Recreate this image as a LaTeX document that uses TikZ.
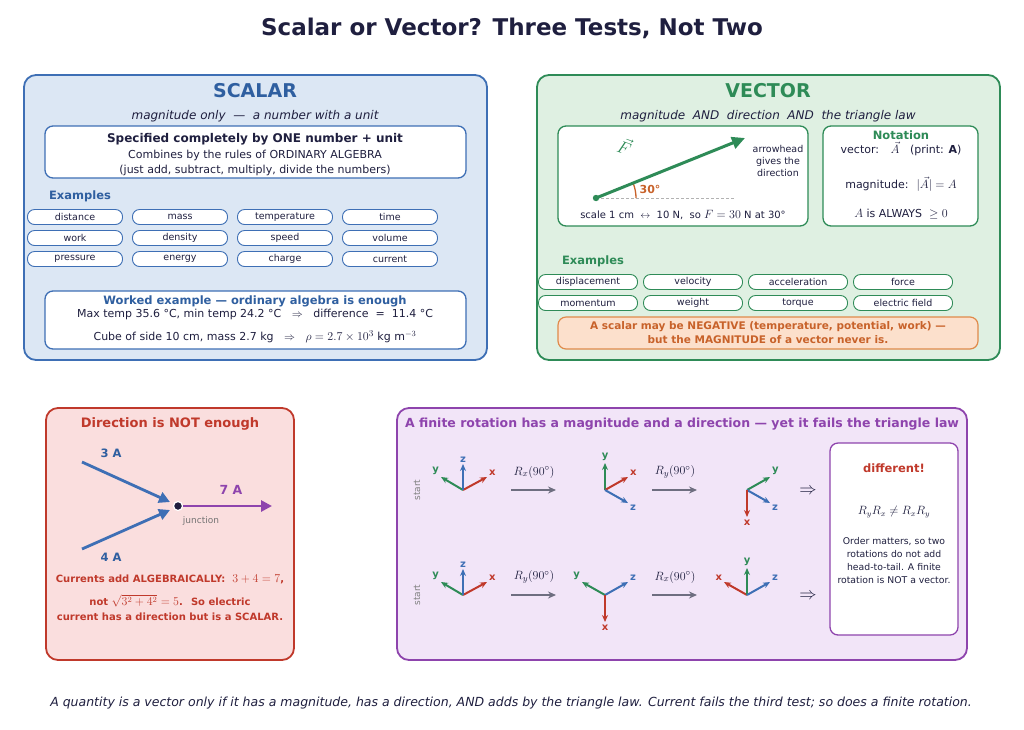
\documentclass[tikz,border=0pt]{standalone}
\usepackage{fontspec}
\setmainfont{DejaVu Sans}
\usetikzlibrary{arrows.meta,calc}
\definecolor{ink}{HTML}{1F1F3F}
\definecolor{sblue}{HTML}{3E6FB5}
\definecolor{dblue}{HTML}{2F5FA0}
\definecolor{sfill}{HTML}{DCE7F4}
\definecolor{vgreen}{HTML}{2E8B57}
\definecolor{vfill}{HTML}{DFF0E2}
\definecolor{dred}{HTML}{C0392B}
\definecolor{rfill}{HTML}{FADEDE}
\definecolor{purp}{HTML}{8E44AD}
\definecolor{pfill}{HTML}{F2E5F8}
\definecolor{orng}{HTML}{C8622A}
\definecolor{ofill}{HTML}{FCE0CC}
\definecolor{oline}{HTML}{E08A4A}
\definecolor{gry}{HTML}{6E6E80}
\newcommand{\bm}[1]{{\fontsize{13}{14}\selectfont$#1$}}
\tikzset{
 panel/.style={draw=#1,line width=1.8pt,rounded corners=12pt},
 wbox/.style={draw=#1,fill=white,line width=1.3pt,rounded corners=8pt},
 pill/.style={draw=#1,fill=white,line width=0.9pt,rounded corners=7pt,minimum width=95pt,minimum height=15pt,inner sep=0pt,font=\fontsize{9.5}{11}\selectfont,text=ink},
 txt/.style={font=\fontsize{11}{14}\selectfont,text=ink,align=center},
 ax/.style={line width=2pt,-{Stealth[length=7pt,width=6pt]},draw=#1},
 axl/.style={font=\fontsize{10}{11}\selectfont\bfseries,text=#1},
 op/.style={line width=2pt,draw=gry,-{Stealth[length=8pt,width=7pt]}},
}
\begin{document}
\begin{tikzpicture}[x=1pt,y=-1pt]
\useasboundingbox[fill=white] (0,0) rectangle (1024,729);
\node[font=\fontsize{23}{26}\selectfont\bfseries,text=ink] (title) at (512,28) {Scalar or Vector? Three Tests, Not Two};

% SCALAR panel
\draw[panel=sblue,fill=sfill] (24,75) rectangle (487,360);
\node[font=\fontsize{19}{22}\selectfont\bfseries,text=dblue] (sh) at (255,91) {SCALAR};
\node[txt,font=\fontsize{12}{14}\selectfont\itshape] (ss) at (255,116) {magnitude only \ ---\ \ a number with a unit};
\draw[wbox=sblue] (45,126) rectangle (466,178);
\node[txt,font=\fontsize{12}{14}\selectfont\bfseries] (s1) at (255,139) {Specified completely by ONE number + unit};
\node[txt] (s2) at (255,155) {Combines by the rules of ORDINARY ALGEBRA};
\node[txt] (s3) at (255,170) {(just add, subtract, multiply, divide the numbers)};
\node[font=\fontsize{11.5}{14}\selectfont\bfseries,text=dblue] (sex) at (80,196) {Examples};
\foreach \t [count=\i from 0] in {distance,mass,temperature,time,work,density,speed,volume,pressure,energy,charge,current}{
 \pgfmathtruncatemacro{\c}{mod(\i,4)}\pgfmathtruncatemacro{\r}{div(\i,4)}
 \node[pill=sblue] (sp\i) at (75+105*\c,217+21*\r) {\t};}
\draw[wbox=sblue] (45,291) rectangle (466,349);
\node[txt,font=\fontsize{11.5}{14}\selectfont\bfseries,text=dblue] (w1) at (255,301) {Worked example --- ordinary algebra is enough};
\node[txt] (w2) at (255,314) {Max temp 35.6 °C, min temp 24.2 °C \ \ $\Rightarrow$ \ \ difference \ = \ 11.4 °C};
\node[txt] (w3) at (255,337) {Cube of side 10 cm, mass 2.7 kg \ \ $\Rightarrow$ \ \ \bm{\rho=2.7\times10^{3}} kg m$^{-3}$};

% VECTOR panel
\draw[panel=vgreen,fill=vfill] (537,75) rectangle (1000,360);
\node[font=\fontsize{19}{22}\selectfont\bfseries,text=vgreen] (vh) at (768,91) {VECTOR};
\node[txt,font=\fontsize{12}{14}\selectfont\itshape] (vs) at (768,116) {magnitude \ AND \ direction \ AND \ the triangle law};
\draw[wbox=vgreen] (558,126) rectangle (808,226);
\coordinate (o) at (596,198);
\coordinate (dend) at (735,198);
\coordinate (tip) at (745,138);
\draw[densely dashed,draw=gray!60,line width=0.9pt] (o) -- (dend);
\draw[line width=1.3pt,draw=orng] ($(o)+(40,0)$) arc[start angle=0,end angle=22,radius=40pt] ;
\draw[line width=3pt,draw=vgreen,-{Triangle[length=13pt,width=12pt]}] (o) -- (tip);
\fill[vgreen] (o) circle (3.2pt);
\node[font=\fontsize{11}{12}\selectfont\bfseries,text=orng] (ang) at (650,189) {30°};
\node[rotate=-20,font=\fontsize{17}{18}\selectfont,text=vgreen] (F) at (625,146) {$\vec F$};
\node[txt,font=\fontsize{9.5}{12}\selectfont] (ah) at (778,161) {arrowhead\\gives the\\direction};
\node[txt,font=\fontsize{10}{12}\selectfont] (sc) at (683,215) {scale 1 cm \ $\leftrightarrow$\ \ 10 N, \ so {\fontsize{12}{12}\selectfont$F=30$} N at 30°};
\draw[wbox=vgreen] (823,126) rectangle (978,226);
\node[font=\fontsize{11.5}{13}\selectfont\bfseries,text=vgreen] (nt) at (901,135) {Notation};
\node[txt] (n1) at (901,149) {vector: \ \ \bm{\vec{A}} \ \ (print: \textbf{A})};
\node[txt] (n2) at (901,184) {magnitude: \ \bm{|\vec{A}|=A}};
\node[txt] (n3) at (901,214) {\bm{A} is ALWAYS \ \bm{\geq0}};
\node[font=\fontsize{11.5}{14}\selectfont\bfseries,text=vgreen] (vex) at (593,261) {Examples};
\foreach \t [count=\i from 0] in {displacement,velocity,acceleration,force,momentum,weight,torque,electric field}{
 \pgfmathtruncatemacro{\c}{mod(\i,4)}\pgfmathtruncatemacro{\r}{div(\i,4)}
 \node[pill=vgreen,minimum width=99pt] (vp\i) at (588+105*\c,282+21*\r) {\t};}
\draw[draw=oline,fill=ofill,line width=1.2pt,rounded corners=8pt] (558,317) rectangle (978,349);
\node[txt,font=\fontsize{10.5}{14}\selectfont\bfseries,text=orng] (neg) at (768,333) {A scalar may be NEGATIVE (temperature, potential, work) ---\\but the MAGNITUDE of a vector never is.};

% Direction panel
\draw[panel=dred,fill=rfill] (46,408) rectangle (294,660);
\node[font=\fontsize{13}{15}\selectfont\bfseries,text=dred] (dh) at (170,424) {Direction is NOT enough};
\coordinate (a1) at (82,462); \coordinate (a2) at (82,549);
\node[circle,fill=ink,draw=white,line width=1.2pt,inner sep=0pt,minimum size=9pt] (j) at (178,506) {};
\coordinate (jo) at (272,506);
\draw[line width=2.8pt,draw=sblue,-{Triangle[length=11pt,width=11pt]}] (a1) -- ($(j)+(-8,-4)$);
\draw[line width=2.8pt,draw=sblue,-{Triangle[length=11pt,width=11pt]}] (a2) -- ($(j)+(-8,4)$);
\draw[line width=2.8pt,draw=purp,-{Triangle[length=11pt,width=11pt]}] (j) -- (jo);
\node[font=\fontsize{11.5}{13}\selectfont\bfseries,text=dblue] (l3) at (111,453) {3 A};
\node[font=\fontsize{11.5}{13}\selectfont\bfseries,text=dblue] (l4) at (111,557) {4 A};
\node[font=\fontsize{12.5}{13}\selectfont\bfseries,text=purp] (l7) at (231,490) {7 A};
\node[font=\fontsize{9}{10}\selectfont,text=gray!90!black] (jl) at (201,521) {junction};
\node[txt,font=\fontsize{10}{12}\selectfont\bfseries,text=dred] (c1) at (170,579) {Currents add ALGEBRAICALLY: \ {\fontsize{12}{12}\selectfont\mdseries$3+4=7$},};
\node[txt,font=\fontsize{10}{12}\selectfont\bfseries,text=dred] (c2) at (170,601) {not {\fontsize{12}{12}\selectfont\mdseries$\sqrt{3^2+4^2}=5$}. \ So electric};
\node[txt,font=\fontsize{10}{12}\selectfont\bfseries,text=dred] (c3) at (170,617) {current has a direction but is a SCALAR.};

% Rotation panel
\draw[panel=purp,fill=pfill] (397,408) rectangle (967,660);
\node[font=\fontsize{12.5}{14}\selectfont\bfseries,text=purp] (rh) at (682,424) {A finite rotation has a magnitude and a direction --- yet it fails the triangle law};
\foreach \yy/\n in {490/1,595/2}{
 \node[rotate=90,font=\fontsize{9}{10}\selectfont,text=gray] (st\n) at (417,\yy) {start};
 \coordinate (f\n) at (463,\yy);
 \draw[ax=dred] (f\n) -- ++(24,-13) node[axl=dred,anchor=south west,inner sep=1pt] {x};
 \draw[ax=vgreen] (f\n) -- ++(-22,-13) node[axl=vgreen,anchor=south east,inner sep=1pt] {y};
 \draw[ax=sblue] (f\n) -- ++(0,-26) node[axl=sblue,anchor=south,inner sep=1pt] {z};
}
\coordinate (g1) at (605,490);
\draw[ax=vgreen] (g1) -- ++(0,-27) node[axl=vgreen,anchor=south,inner sep=1pt] {y};
\draw[ax=dred] (g1) -- ++(23,-13) node[axl=dred,anchor=south west,inner sep=1pt] {x};
\draw[ax=sblue] (g1) -- ++(23,13) node[axl=sblue,anchor=north west,inner sep=1pt] {z};
\coordinate (h1) at (747,490);
\draw[ax=vgreen] (h1) -- ++(23,-13) node[axl=vgreen,anchor=south west,inner sep=1pt] {y};
\draw[ax=sblue] (h1) -- ++(23,13) node[axl=sblue,anchor=north west,inner sep=1pt] {z};
\draw[ax=dred] (h1) -- ++(0,27) node[axl=dred,anchor=north,inner sep=2pt] {x};
\coordinate (g2) at (605,595);
\draw[ax=vgreen] (g2) -- ++(-23,-13) node[axl=vgreen,anchor=south east,inner sep=1pt] {y};
\draw[ax=sblue] (g2) -- ++(23,-13) node[axl=sblue,anchor=south west,inner sep=1pt] {z};
\draw[ax=dred] (g2) -- ++(0,27) node[axl=dred,anchor=north,inner sep=2pt] {x};
\coordinate (h2) at (747,595);
\draw[ax=dred] (h2) -- ++(-23,-13) node[axl=dred,anchor=south east,inner sep=1pt] {x};
\draw[ax=vgreen] (h2) -- ++(0,-27) node[axl=vgreen,anchor=south,inner sep=1pt] {y};
\draw[ax=sblue] (h2) -- ++(23,-13) node[axl=sblue,anchor=south west,inner sep=1pt] {z};
\foreach \xa/\yy/\lab/\n in {511/490/{R_x(90^\circ)}/a,652/490/{R_y(90^\circ)}/b,511/595/{R_y(90^\circ)}/c,652/595/{R_x(90^\circ)}/d}{
 \coordinate (os\n) at (\xa,\yy); \coordinate (oe\n) at (\xa+45,\yy);
 \draw[op] (os\n) -- (oe\n);
 \node[font=\fontsize{13}{14}\selectfont,text=ink] (ol\n) at (\xa+23,\yy-18) {$\lab$};
}
\node[font=\fontsize{16}{16}\selectfont,text=ink] (imp1) at (808,491) {$\Rightarrow$};
\node[font=\fontsize{16}{16}\selectfont,text=ink] (imp2) at (808,596) {$\Rightarrow$};
\draw[draw=purp,fill=white,line width=1.3pt,rounded corners=8pt] (830,443) rectangle (958,635);
\node[font=\fontsize{11.5}{13}\selectfont\bfseries,text=dred] (dif) at (894,468) {different!};
\node[font=\fontsize{12}{12}\selectfont,text=ink] (neq) at (894,512) {$R_yR_x\neq R_xR_y$};
\node[txt,font=\fontsize{9.3}{13}\selectfont] (om) at (894,561) {Order matters, so two\\rotations do not add\\head-to-tail. A finite\\rotation is NOT a vector.};

\node[font=\fontsize{12.5}{14}\selectfont\itshape,text=ink] (cap) at (511,703) {A quantity is a vector only if it has a magnitude, has a direction, AND adds by the triangle law. Current fails the third test; so does a finite rotation.};
\end{tikzpicture}
\end{document}
